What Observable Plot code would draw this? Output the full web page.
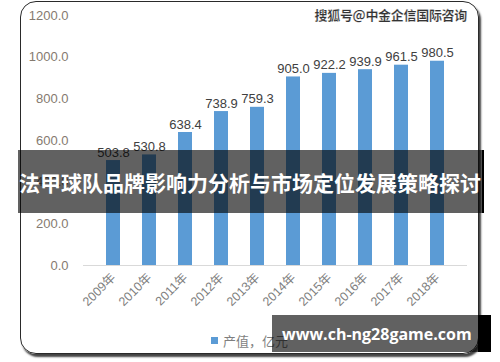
<!DOCTYPE html>
<html><head><meta charset="utf-8">
<script src="https://cdn.jsdelivr.net/npm/d3@7"></script>
<script src="https://cdn.jsdelivr.net/npm/@observablehq/plot@0.6"></script>
<style>
html,body{margin:0;padding:0;background:#fff;}
#wrap{position:relative;width:500px;height:362px;overflow:hidden;font-family:"Liberation Sans","DejaVu Sans",sans-serif;}
#frame{position:absolute;left:20px;top:1px;width:457px;height:351px;border:1.5px solid #2a2a2a;border-radius:16px;box-shadow:2px 3px 2px #444;}
#chart{position:absolute;left:0;top:0;}
#legend{position:absolute;left:211px;top:331px;font-size:13px;color:#7f7f7f;font-family:"Noto Sans CJK SC",sans-serif;display:flex;align-items:center;}
#legend span.sw{display:inline-block;width:7px;height:7px;background:#5b9bd5;margin-right:5px;}
#banner{position:absolute;left:18px;top:150px;width:464px;height:63px;background:rgba(0,0,0,0.62);border-right:2px solid #000;color:#fff;font-weight:bold;font-size:21px;font-family:"Noto Sans CJK SC",sans-serif;display:flex;align-items:center;justify-content:center;white-space:nowrap;}
#wm{position:absolute;right:33px;top:5px;font-size:13px;color:#333;font-family:"Noto Sans CJK SC",sans-serif;font-weight:bold;-webkit-text-stroke:0.2px #fff;letter-spacing:-0.3px;}
#site{position:absolute;left:272px;top:315px;width:206px;height:37px;background:rgba(0,0,0,0.62);border-right:13px solid #000;color:#fff;font-weight:bold;font-size:16px;font-family:"Open Sans","DejaVu Sans",sans-serif;display:flex;align-items:center;white-space:nowrap;}
#site span{margin-left:10px;}
</style>
</head><body>
<div id="wrap">
  <div id="frame"></div>
  <div id="chart"></div>
  <div id="legend"><span class="sw"></span>产值，亿元</div>
  <div id="wm">搜狐号@中金企信国际咨询</div>
  <div id="banner">法甲球队品牌影响力分析与市场定位发展策略探讨</div>
  <div id="site"><span>www.ch-ng28game.com</span></div>
</div>
<script>
const years = ["2009年","2010年","2011年","2012年","2013年","2014年","2015年","2016年","2017年","2018年"];
const values = [503.8, 530.8, 638.4, 738.9, 759.3, 905.0, 922.2, 939.9, 961.5, 980.5];
const yTicks = [0, 200, 400, 600, 800, 1000, 1200];
const data = years.map((y, i) => ({year: y, value: values[i]}));

const chart = Plot.plot({
  width: 500,
  height: 320,
  marginLeft: 83,
  marginRight: 33,
  marginTop: 15,
  marginBottom: 55,
  style: {fontFamily: "Liberation Sans, DejaVu Sans, sans-serif", background: "transparent"},
  x: {domain: years, padding: 0.6, label: null},
  y: {domain: [0, 1200], label: null},
  marks: [
    Plot.axisY({ticks: yTicks, tickSize: 0, tickPadding: 15, tickFormat: d => d.toFixed(1), fontSize: 13, color: "#857a6f", label: null}),
    Plot.axisX({tickSize: 0, tickPadding: 10, tickRotate: -45, fontSize: 12.5, color: "#7f7f7f", label: null, fontFamily: "Liberation Sans, Noto Sans CJK SC, sans-serif"}),
    Plot.barY(data, {x: "year", y: "value", fill: "#5b9bd5"}),
    Plot.ruleY([0], {stroke: "#d9d9d9", strokeWidth: 1}),
    Plot.text(data, {x: "year", y: "value", text: d => d.value.toFixed(1), lineAnchor: "bottom", dy: -4, fontSize: 13, fill: "#404040"})
  ]
});
document.getElementById("chart").appendChild(chart);
</script>
</body></html>
